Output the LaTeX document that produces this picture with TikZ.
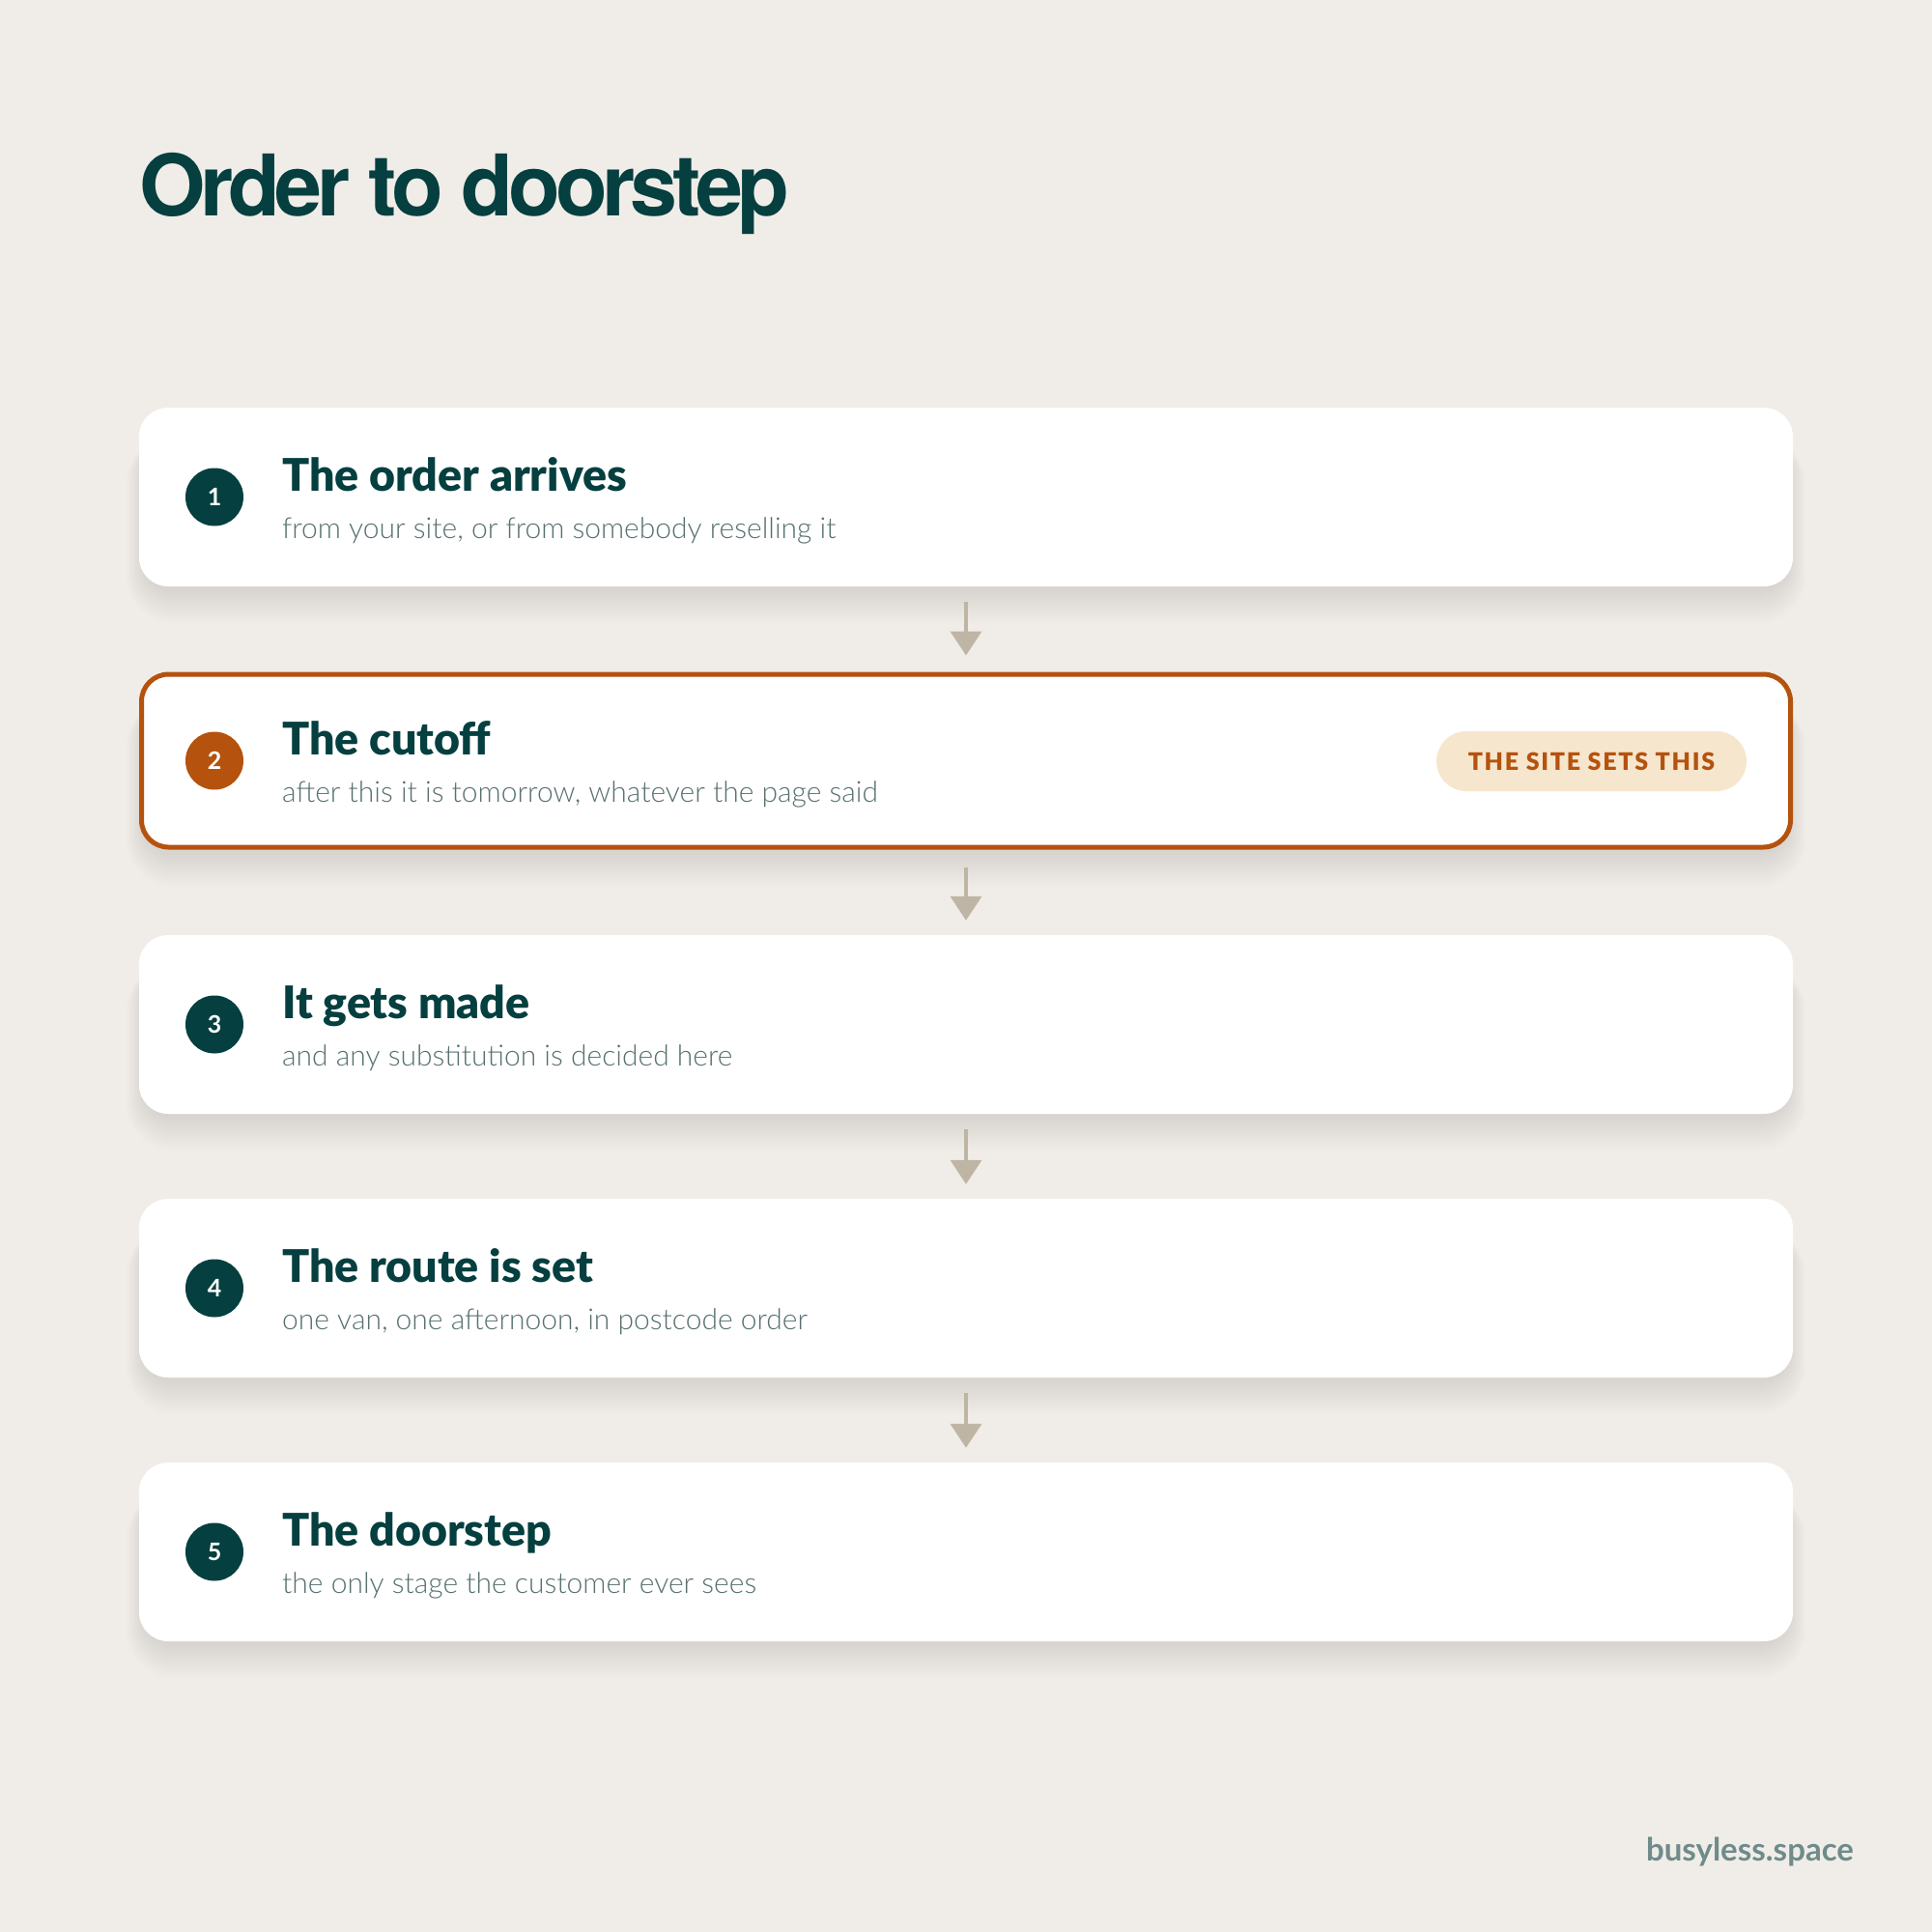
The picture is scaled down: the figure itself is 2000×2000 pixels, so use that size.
\documentclass[tikz,border=0pt]{standalone}
\usepackage{fontspec}
\usetikzlibrary{arrows.meta}
\newfontfamily\titlefont{TeX Gyre Heros}[LetterSpace=-6]
\newfontfamily\headfont{Lato}[BoldFont={Lato Black}]
\newfontfamily\numfont{Lato}
\newfontfamily\subfont{Lato Light}
\newfontfamily\badgefont{Lato}[BoldFont={Lato Black}, LetterSpace=7]
\definecolor{bgc}{HTML}{F0EDE8}
\definecolor{teal}{HTML}{053F3F}
\definecolor{subc}{HTML}{587070}
\definecolor{orng}{HTML}{B5520E}
\definecolor{badgec}{HTML}{F7E6CE}
\definecolor{arrc}{HTML}{BFB5A4}
\definecolor{footc}{HTML}{6F8B8A}
\definecolor{shadc}{HTML}{3A3020}
\tikzset{
  card/.style={rectangle, rounded corners=30pt, minimum width=1712pt, minimum height=185pt,
    fill=white, inner sep=0pt},
  hotcard/.style={card, draw=orng, line width=5pt, minimum width=1707pt, minimum height=179pt, rounded corners=28pt},
  num/.style={circle, fill=teal, minimum size=60pt, inner sep=0pt, text=white,
    font=\numfont\bfseries\fontsize{25}{25}\selectfont},
  hotnum/.style={num, fill=orng},
  head/.style={anchor=base west, inner sep=0pt, text=teal, font=\headfont\bfseries\fontsize{46.5}{50}\selectfont},
  sub/.style={anchor=base west, inner sep=0pt, text=subc, font=\subfont\fontsize{30}{32}\selectfont},
  badge/.style={rectangle, rounded corners=31pt, minimum width=321pt, minimum height=62pt, inner sep=0pt,
    fill=badgec, text=orng, font=\badgefont\bfseries\fontsize{25}{25}\selectfont},
  flow/.style={draw=arrc, line width=4pt, -{Triangle[width=32pt,length=25pt]}},
  shadowlayer/.style={fill=shadc, opacity=0.008},
}
\newcommand\cardshadow[1]{%
  \foreach \i in {1,...,12}{%
    \pgfmathsetmacro\rr{\i*3}%
    \pgfmathsetmacro\rx{\i*1.6}%
    \fill[shadowlayer, rounded corners=30pt+\rx pt]
      (150-\rx, #1-92.5+30) rectangle (1850+\rx, #1+92.5+2+\rr);
  }%
}
\begin{document}
\begin{tikzpicture}[x=1pt,y=-1pt]
\fill[bgc] (0,0) rectangle (2000,2000);
\useasboundingbox (0,0) rectangle (2000,2000);

\node[anchor=base west, inner sep=0pt, text=teal, font=\titlefont\bfseries\fontsize{88}{96}\selectfont] (title) at (144,223) {Order to doorstep};

% soft shadows
\cardshadow{514.5}
\cardshadow{787.5}
\cardshadow{1060.5}
\cardshadow{1333.5}
\cardshadow{1606.5}

% cards
\node[card] (c1) at (1000,514.5) {};
\node[hotcard] (c2) at (1000,787.5) {};
\node[card] (c3) at (1000,1060.5) {};
\node[card] (c4) at (1000,1333.5) {};
\node[card] (c5) at (1000,1606.5) {};

% numbers
\node[num] (n1) at (222,514.5) {1};
\node[hotnum] (n2) at (222,787.5) {2};
\node[num] (n3) at (222,1060.5) {3};
\node[num] (n4) at (222,1333.5) {4};
\node[num] (n5) at (222,1606.5) {5};

% headings and subtitles
\node[head] (h1) at (292,508) {The order arrives};
\node[sub] (s1) at (292,557) {from your site, or from somebody reselling it};
\node[head] (h2) at (292,781) {The cutoff};
\node[sub] (s2) at (292,830) {after this it is tomorrow, whatever the page said};
\node[head] (h3) at (292,1054) {It gets made};
\node[sub] (s3) at (292,1103) {and any substitution is decided here};
\node[head] (h4) at (292,1327) {The route is set};
\node[sub] (s4) at (292,1376) {one van, one afternoon, in postcode order};
\node[head] (h5) at (292,1600) {The doorstep};
\node[sub] (s5) at (292,1649) {the only stage the customer ever sees};

\node[badge] (b2) at (1647.5,788) {THE SITE SETS THIS};

% arrows
\draw[flow] ([yshift=-16pt]c1.south) -- ([yshift=17pt]c2.north);
\draw[flow] ([yshift=-18pt]c2.south) -- ([yshift=15pt]c3.north);
\draw[flow] ([yshift=-16pt]c3.south) -- ([yshift=15pt]c4.north);
\draw[flow] ([yshift=-16pt]c4.south) -- ([yshift=15pt]c5.north);

\node[anchor=base east, inner sep=0pt, text=footc, font=\numfont\bfseries\fontsize{33}{36}\selectfont] (foot) at (1919,1926) {busyless.space};
\end{tikzpicture}
\end{document}
